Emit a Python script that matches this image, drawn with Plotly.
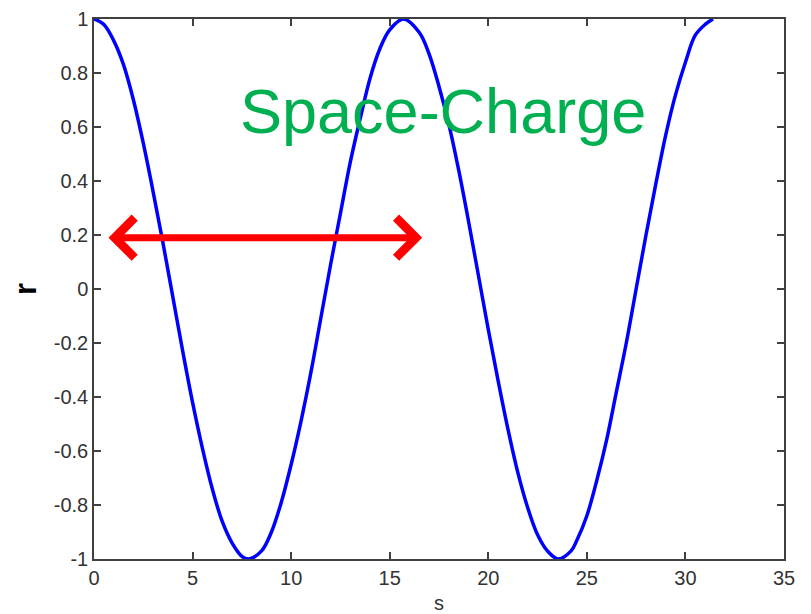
import plotly.graph_objects as go

# curve values
s_vals = [0, 0.5, 1, 1.5, 2, 2.5, 3, 3.5, 4, 4.5, 5, 5.5, 6, 6.5, 7, 7.5, 7.85,
          8.5, 9, 9.5, 10, 10.5, 11, 11.5, 12, 12.5, 13, 13.5, 14, 14.5, 15, 15.7,
          16.5, 17, 17.5, 18, 18.5, 19, 19.5, 20, 20.5, 21, 21.5, 22, 22.5, 23, 23.55,
          24.2, 24.5, 25, 25.5, 26, 26.5, 27, 27.5, 28, 28.5, 29, 29.5, 30, 30.5, 31, 31.4]
r_vals = [1.0, 0.98, 0.92, 0.83, 0.70, 0.54, 0.36, 0.17, -0.03, -0.23, -0.42, -0.59,
          -0.74, -0.86, -0.94, -0.99, -1.0,
          -0.97, -0.90, -0.79, -0.65, -0.49, -0.31, -0.11, 0.09, 0.28, 0.47, 0.63,
          0.78, 0.89, 0.96, 1.0,
          0.95, 0.87, 0.75, 0.61, 0.44, 0.25, 0.05, -0.15, -0.34, -0.52, -0.68,
          -0.81, -0.91, -0.97, -1.0,
          -0.97, -0.93, -0.84, -0.71, -0.56, -0.38, -0.20, 0.0, 0.20, 0.39, 0.57,
          0.72, 0.84, 0.94, 0.98, 1.0]

# double-headed arrow (one period) and label
arrow_s = [0.66, 16.65]
arrow_r = 0.19
label_text = "Space-Charge"
label_pos = (17.7, 0.66)

x_ticks = [0, 5, 10, 15, 20, 25, 30, 35]
y_ticks = [-1, -0.8, -0.6, -0.4, -0.2, 0, 0.2, 0.4, 0.6, 0.8, 1]
y_tick_text = ["-1", "-0.8", "-0.6", "-0.4", "-0.2", "0", "0.2", "0.4", "0.6", "0.8", "1"]

fig = go.Figure()

fig.add_trace(go.Scatter(
    x=s_vals, y=r_vals,
    mode="lines",
    line=dict(color="#0000ff", width=3.5, shape="spline", smoothing=1.0),
    showlegend=False,
    hoverinfo="skip",
))

fig.add_annotation(
    x=arrow_s[1], y=arrow_r, ax=arrow_s[0], ay=arrow_r,
    xref="x", yref="y", axref="x", ayref="y",
    text="", showarrow=True,
    arrowside="end+start", arrowhead=4, arrowsize=1.1,
    arrowwidth=7, arrowcolor="#ff0000", standoff=0, startstandoff=0,
)

fig.add_annotation(
    x=label_pos[0], y=label_pos[1], xref="x", yref="y",
    text=label_text, showarrow=False,
    font=dict(family="Liberation Sans, Arial", size=63, color="#00b050"),
    xanchor="center", yanchor="middle",
)

axis_style = dict(
    showline=True, linecolor="#404040", linewidth=1.5, mirror="ticks",
    ticks="inside", ticklen=7, tickcolor="#404040", tickwidth=1.5,
    showgrid=False, zeroline=False, automargin=False,
    ticklabeloverflow="allow",
    tickfont=dict(family="Liberation Sans, Arial", size=20, color="#333333"),
)

fig.update_xaxes(
    range=[0, 35], tickvals=x_ticks,
    title=dict(text="s", standoff=12,
               font=dict(family="Liberation Sans, Arial", size=20, color="#333333")),
    **axis_style,
)
fig.update_yaxes(
    range=[-1, 1], tickvals=y_ticks, ticktext=y_tick_text,
    title=dict(text="<b>r</b>", standoff=8,
               font=dict(family="Liberation Sans, Arial", size=31, color="#000000")),
    **axis_style,
)

# the page body adds an 8px offset, so the figure is a little smaller than the window
fig.update_layout(
    width=803, height=606,
    margin=dict(l=86, r=27, t=11, b=55),
    paper_bgcolor="white",
    plot_bgcolor="white",
)

fig.write_html("out.html")
